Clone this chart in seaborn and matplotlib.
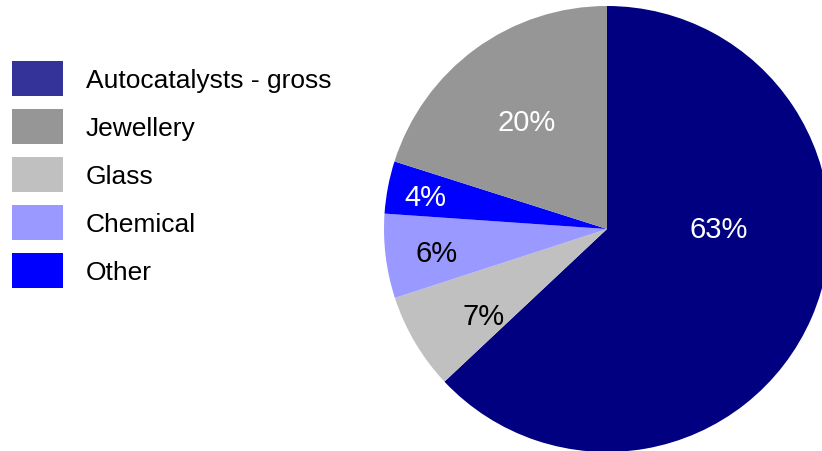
import numpy as np
import matplotlib
matplotlib.use("Agg")
import matplotlib.pyplot as plt
import seaborn as sns
from matplotlib.patches import Patch

# Data (share of demand, %)
categories = ["Autocatalysts - gross", "Glass", "Chemical", "Other", "Jewellery"]
shares = [63.0, 7.0, 6.1, 3.8, 20.1]
pie_colors = ["#000080", "#C0C0C0", "#9999FF", "#0000FF", "#969696"]
label_colors = ["white", "black", "black", "white", "white"]

legend_order = ["Autocatalysts - gross", "Jewellery", "Glass", "Chemical", "Other"]
legend_colors = ["#333399", "#969696", "#C0C0C0", "#9999FF", "#0000FF"]

# label placement (fraction of radius, optional angle override in degrees)
label_radius = [0.50, 0.67, 0.77, 0.83, 0.61]
label_angle = [1.5, -146.0, None, None, None]

sns.set_style("white")
plt.rcParams["font.family"] = ["Liberation Sans", "DejaVu Sans"]

W, H = 822, 452
fig = plt.figure(figsize=(W / 100, H / 100), dpi=100)
ax = fig.add_axes([0, 0, 1, 1])

cx, cy, R = 607, H - 230, 223
wedges, _ = ax.pie(shares, colors=pie_colors, startangle=90, counterclock=False,
                   center=(cx, cy), radius=R, frame=True,
                   wedgeprops=dict(linewidth=0))
ax.set_xlim(0, W)
ax.set_ylim(0, H)
ax.axis("off")

for w, val, rf, ang, col in zip(wedges, shares, label_radius, label_angle, label_colors):
    a = (w.theta1 + w.theta2) / 2 if ang is None else ang
    a = np.deg2rad(a)
    ax.text(cx + rf * R * np.cos(a), cy + rf * R * np.sin(a), f"{val:.0f}%",
            ha="center", va="center_baseline", color=col, fontsize=21)

handles = [Patch(facecolor=c, edgecolor="none") for c in legend_colors]
fig.legend(handles, legend_order, loc="upper left",
           bbox_to_anchor=(12 / W, 1 - 62 / H), frameon=False, fontsize=19,
           labelcolor="black",
           borderpad=0, borderaxespad=0, handlelength=1.93, handleheight=1.664,
           handletextpad=0.87, labelspacing=0.49)

fig.savefig("out.png", dpi=100)
